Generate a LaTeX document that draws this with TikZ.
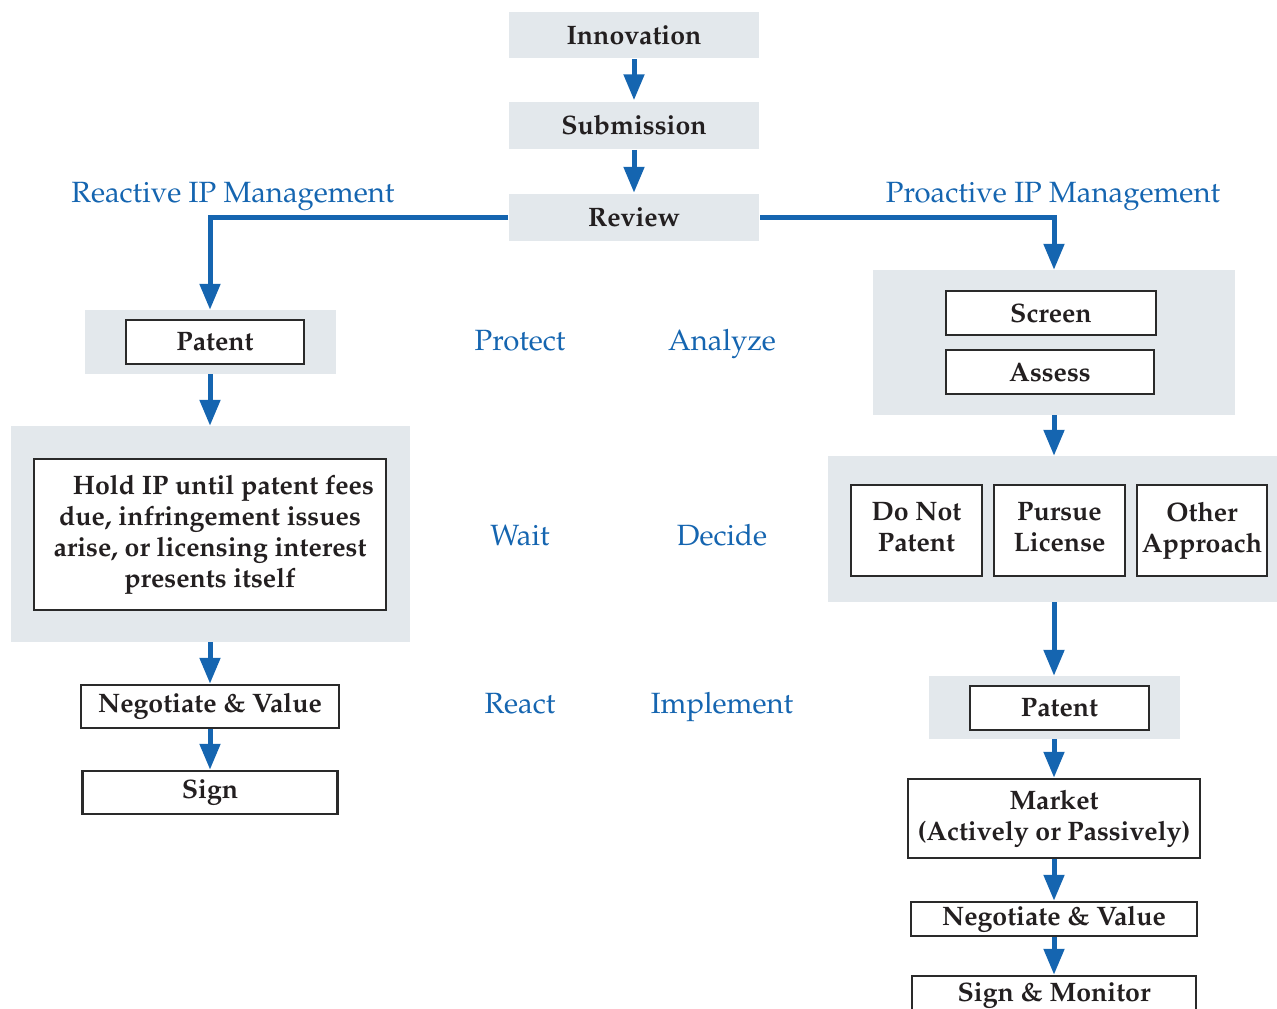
\documentclass[tikz,border=0pt]{standalone}
\usepackage[T1]{fontenc}
\usepackage{mathpazo}
\usetikzlibrary{arrows.meta}

\definecolor{ipblue}{HTML}{1565B0}
\definecolor{panel}{HTML}{E3E8EC}
\definecolor{edge}{HTML}{2A2A2A}
\definecolor{ink}{HTML}{231F20}

\tikzset{
  panelbox/.style={fill=panel, draw=none, inner sep=0pt},
  stepbox/.style={draw=edge, line width=2.5pt, fill=white, inner sep=0pt, align=center,
    text=ink, font=\fontsize{26.7}{31}\selectfont\bfseries},
  flow/.style={draw=ipblue, line width=5pt, -{Triangle[width=20pt,length=26pt]}},
  phase/.style={text=ipblue, anchor=base, font=\fontsize{29.3}{34}\selectfont}
}

\begin{document}
\begin{tikzpicture}[x=1pt,y=-1pt]
        \useasboundingbox (0,0) rectangle (1277,1009);
        \clip (0,0) rectangle (1277,1009);

        % top column
        \node[panelbox, stepbox, draw=none, fill=panel, minimum width=250pt, minimum height=46pt] (inno) at (634,35) {Innovation};
        \node[panelbox, stepbox, draw=none, fill=panel, minimum width=250pt, minimum height=47pt] (subm) at (634,125) {Submission};
        \node[panelbox, stepbox, draw=none, fill=panel, minimum width=250pt, minimum height=47pt] (rev) at (634,217.5) {Review};

        \node[phase] (reactive) at (233,202) {Reactive IP Management};
        \node[phase] (proactive) at (1053,202) {Proactive IP Management};

        % reactive side
        \node[panelbox, minimum width=251pt, minimum height=64pt] (lpanel) at (210,342) {};
        \node[stepbox, minimum width=178pt, minimum height=44pt] (lpat) at (215,342) {Patent};
        \node[panelbox, minimum width=399pt, minimum height=216pt] (hpanel) at (210,534) {};
        \node[stepbox, minimum width=352pt, minimum height=151pt] (hold) at (210,534.5)
          {\hspace*{1em}Hold IP until patent fees\\due, infringement issues\\arise, or licensing interest\\presents itself};
        \node[stepbox, minimum width=258pt, minimum height=43pt] (lneg) at (210,706.5) {Negotiate \& Value};
        \node[stepbox, minimum width=255pt, minimum height=43pt] (lsign) at (210,792.5) {Sign};

        % phases
        \node[phase] (protect) at (520,350) {Protect};
        \node[phase] (analyze) at (722,350) {Analyze};
        \node[phase] (wait) at (520,545) {Wait};
        \node[phase] (decide) at (722,545) {Decide};
        \node[phase] (react) at (520,713) {React};
        \node[phase] (implement) at (722,713) {Implement};

        % proactive side
        \node[panelbox, minimum width=362pt, minimum height=145pt] (spanel) at (1054,342.5) {};
        \node[stepbox, minimum width=210pt, minimum height=44pt] (screen) at (1051,313) {Screen};
        \node[stepbox, minimum width=208pt, minimum height=44pt] (assess) at (1050,372) {Assess};
        \node[panelbox, minimum width=452pt, minimum height=146pt, anchor=west] (opanel) at (828,529) {};
        \node[stepbox, minimum width=131pt, minimum height=91pt] (nopat) at (916.5,530.5) {Do Not\\Patent\vphantom{p}};
        \node[stepbox, minimum width=131pt, minimum height=91pt] (lic) at (1059.5,530.5) {Pursue\\License\vphantom{p}};
        \node[stepbox, minimum width=130pt, minimum height=91pt] (other) at (1202,530.5) {Other\\Approach};
        \node[panelbox, minimum width=251pt, minimum height=63pt] (rpanel) at (1054,707.5) {};
        \node[stepbox, minimum width=179pt, minimum height=44pt] (rpat) at (1059.5,708) {Patent};
        \node[stepbox, minimum width=292pt, minimum height=79pt] (market) at (1054,818.5) {Market\\(Actively or Passively)};
        \node[stepbox, minimum width=286pt, minimum height=34pt] (rneg) at (1054,919) {Negotiate \& Value};
        \node[stepbox, minimum width=284pt, minimum height=40pt] (rsign) at (1054,996) {Sign \& Monitor};

        \draw[flow] (inno) -- (subm);
        \draw[flow] (subm) -- (rev);
        \draw[flow] (rev.west) -| (lpanel.north);
        \draw[flow] (rev.east) -| (spanel.north);

        \draw[flow] (lpanel) -- (hpanel);
        \draw[flow] (hpanel) -- (lneg);
        \draw[flow] (lneg) -- (lsign);

        \draw[flow] (spanel) -- (spanel |- opanel.north);
        \draw[flow] (spanel |- opanel.south) -- (rpanel);
        \draw[flow] (rpanel) -- (market);
        \draw[flow] (market) -- (rneg);
        \draw[flow] (rneg) -- (rsign);
    \end{tikzpicture}
\end{document}
